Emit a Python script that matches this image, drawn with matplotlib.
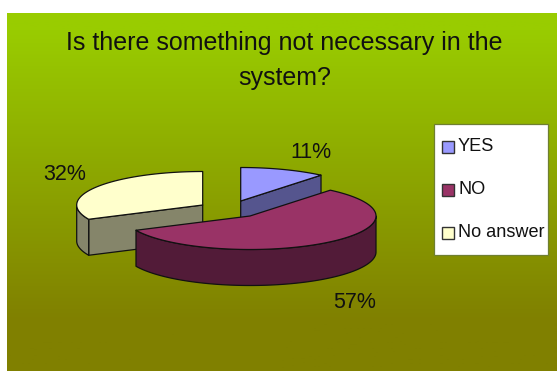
import numpy as np
import matplotlib
matplotlib.use("Agg")
import matplotlib.pyplot as plt
from matplotlib.colors import LinearSegmentedColormap
from matplotlib.patches import Polygon, Rectangle

labels = ["YES", "NO", "No answer"]
values = [11, 57, 32]
pct_labels = ["11%", "57%", "32%"]
title = "Is there something not necessary in the\nsystem?"

top_colors = ["#9999FF", "#993366", "#FFFFCC"]
side_colors = ["#55558E", "#521B38", "#85856A"]
apexes = [(240.7, 201.0), (250.0, 216.0), (202.7, 205.0)]
pct_pos = [(311, 152), (355, 302.5), (65, 175)]
draw_order = [0, 2, 1]

RX, RY, DEPTH = 126.0, 33.5, 36.0
W, H = 557, 371

plt.rcParams["font.family"] = ["Liberation Sans", "DejaVu Sans"]
fig = plt.figure(figsize=(W / 100, H / 100), dpi=100, facecolor="white")
ax = fig.add_axes([0, 0, 1, 1])
ax.axis("off")

# Vertical background gradient of the chart area
grad = LinearSegmentedColormap.from_list(
    "bg", [(0.0, "#99CC00"), (0.05, "#99CC00"), (0.86, "#808000"), (1.0, "#808000")])
ax.imshow(np.linspace(0, 1, 256)[:, None], cmap=grad, aspect="auto",
          extent=(7, W, H, 13), zorder=0)
ax.set_xlim(0, W)
ax.set_ylim(H, 0)

ax.text(284.5, 60.5, title, ha="center", va="center", fontsize=18.0,
        color="#111111", linespacing=1.62)


def rim(cx, cy, a0, a1, dz=0.0):
    t = np.radians(np.linspace(a0, a1, 120))
    return np.column_stack([cx + RX * np.cos(t), cy - RY * np.sin(t) + dz])


# Slice angles run clockwise from twelve o'clock
edges = 90 - 360 * np.cumsum([0] + values) / sum(values)
edge_kw = dict(edgecolor="#111111", linewidth=0.9, joinstyle="round")

for z, i in enumerate(draw_order):
    a0, a1 = edges[i], edges[i + 1]
    cx, cy = apexes[i]
    zo = 2 + z

    # Straight cut faces, drawn only where they turn toward the viewer
    for ang, visible in ((a0, np.cos(np.radians(a0)) < -0.01),
                         (a1, np.cos(np.radians(a1)) > 0.01)):
        if visible:
            p = rim(cx, cy, ang, ang)[0]
            quad = [(cx, cy), tuple(p), (p[0], p[1] + DEPTH), (cx, cy + DEPTH)]
            ax.add_patch(Polygon(quad, closed=True, facecolor=side_colors[i],
                                 zorder=zo, **edge_kw))

    # Outer wall along the part of the rim nearest the viewer
    lo, hi = max(a1, -180.0), min(a0, 0.0)
    if lo < hi:
        wall = np.vstack([rim(cx, cy, lo, hi), rim(cx, cy, hi, lo, DEPTH)])
        ax.add_patch(Polygon(wall, closed=True, facecolor=side_colors[i],
                             zorder=zo, **edge_kw))

    # Top face
    ax.add_patch(Polygon(np.vstack([[(cx, cy)], rim(cx, cy, a0, a1)]), closed=True,
                         facecolor=top_colors[i], zorder=zo + 0.5, **edge_kw))

for s, (x, y) in zip(pct_labels, pct_pos):
    ax.text(x, y, s, ha="center", va="center", fontsize=15.5, color="#111111", zorder=10)

# Legend box
ax.add_patch(Rectangle((434, 124), 114, 131, facecolor="white",
                       edgecolor="#6F7F30", linewidth=0.9, zorder=8))
for s, c, y in zip(labels, top_colors, (146.5, 190, 232.5)):
    ax.add_patch(Rectangle((441.5, y - 6), 12, 12, facecolor=c, edgecolor="#333333",
                           linewidth=1.0, zorder=9))
    ax.text(458, y, s, ha="left", va="center", fontsize=13.1, color="#111111", zorder=9)

fig.savefig("out.png", dpi=100)
